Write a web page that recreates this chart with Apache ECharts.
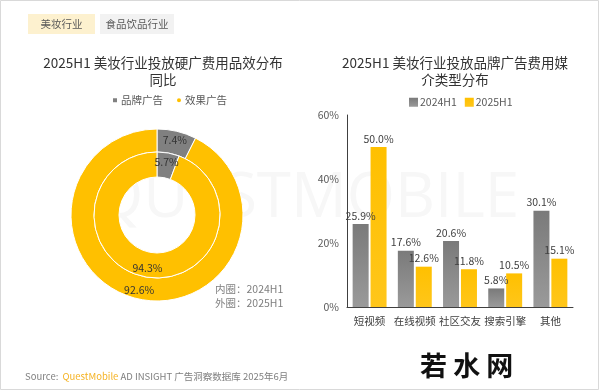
<!DOCTYPE html>
<html><head><meta charset="utf-8">
<script src="https://cdn.jsdelivr.net/npm/echarts@6/dist/echarts.min.js"></script>
<style>html,body{margin:0;padding:0;background:#fff}#c{width:600px;height:392px}</style>
</head><body><div id="c"></div>
<script>
const donutNames = ['品牌广告', '效果广告'];
const inner2024 = [5.7, 94.3];
const outer2025 = [7.4, 92.6];
const categories = ['短视频', '在线视频', '社区交友', '搜索引擎', '其他'];
const s2024 = [25.9, 17.6, 20.6, 5.8, 30.1];
const s2025 = [50.0, 12.6, 11.8, 10.5, 15.1];
const yTicks = [0, 20, 40, 60];

const GRAY = '#808080', YEL = '#FFC000';
const FONT = '"Noto Sans CJK SC", "Noto Sans", sans-serif';
const chart = echarts.init(document.getElementById('c'));
const grad = (a, b) => new echarts.graphic.LinearGradient(0, 0, 0, 1, [{offset: 0, color: a}, {offset: 1, color: b}]);

chart.setOption({
  backgroundColor: '#fff',
  textStyle: {fontFamily: FONT},
  animation: false,
  graphic: [
    {type: 'rect', shape: {x: 0.5, y: 0.5, width: 598, height: 389}, style: {fill: 'none', stroke: '#d9d9d9', lineWidth: 1}, z: -10},
    {type: 'text', left: 95, top: 168, style: {text: 'QUESTMOBILE', font: '62px "Open Sans", sans-serif', fill: '#f7f7f7'}, z: -5},
    {type: 'rect', shape: {x: 28, y: 14, width: 67, height: 20}, style: {fill: '#FDF1CF'}},
    {type: 'text', x: 61.5, y: 24, style: {text: '美妆行业', font: '10.5px ' + FONT, fill: '#595959', align: 'center', verticalAlign: 'middle'}},
    {type: 'rect', shape: {x: 100, y: 14, width: 74, height: 20}, style: {fill: '#F2F2F2'}},
    {type: 'text', x: 137, y: 24, style: {text: '食品饮品行业', font: '10.5px ' + FONT, fill: '#595959', align: 'center', verticalAlign: 'middle'}},
    {type: 'text', x: 215, y: 284, style: {text: '内圈：2024H1', font: '10.5px ' + FONT, fill: '#7f7f7f'}},
    {type: 'text', x: 215, y: 298, style: {text: '外圈：2025H1', font: '10.5px ' + FONT, fill: '#7f7f7f'}},
    {type: 'text', x: 25, y: 372, style: {rich: {a: {fontSize: 9.5, fill: '#7f7f7f', fontFamily: FONT}, b: {fontSize: 9.5, fill: '#F5B324', fontFamily: FONT}}, text: '{a|Source:  }{b|QuestMobile}{a| AD INSIGHT 广告洞察数据库 2025年6月}'}},
    {type: 'text', x: 420, y: 352, style: {text: '若 水 网', font: 'bold 27px "Noto Sans CJK SC"', fill: '#111'}}
  ],
  title: [
    {text: '2025H1 美妆行业投放硬广费用品效分布\n同比', left: 158, top: 49, textAlign: 'center',
     textStyle: {fontSize: 13.5, fontWeight: 'normal', color: '#333', lineHeight: 17, fontFamily: FONT}},
    {text: '2025H1 美妆行业投放品牌广告费用媒\n介类型分布', left: 450, top: 49, textAlign: 'center',
     textStyle: {fontSize: 13.5, fontWeight: 'normal', color: '#333', lineHeight: 17, fontFamily: FONT}}
  ],
  legend: [
    {data: [{name: '品牌广告', icon: 'rect'}, {name: '效果广告', icon: 'circle'}], left: 106, top: 90, itemWidth: 6, itemHeight: 6, itemGap: 12,
     textStyle: {fontSize: 10.5, color: '#595959', padding: [0, 0, 0, -2]}},
    {data: ['2024H1', '2025H1'], left: 404, top: 92, icon: 'rect', itemWidth: 9, itemHeight: 9, itemGap: 8,
     textStyle: {fontSize: 10.5, color: '#595959', padding: [0, 0, 0, -3]}}
  ],
  color: [GRAY, YEL],
  grid: {left: 347, right: 27, top: 115, bottom: 85},
  xAxis: {type: 'category', data: categories,
    axisLine: {lineStyle: {color: '#404040', width: 1}}, axisTick: {show: false},
    axisLabel: {fontSize: 10.5, color: '#404040', margin: 9, interval: 0}},
  yAxis: {type: 'value', min: yTicks[0], max: yTicks[yTicks.length - 1], interval: 20,
    axisLine: {show: true, lineStyle: {color: '#404040'}}, axisTick: {show: false}, splitLine: {show: false},
    axisLabel: {fontSize: 10.5, color: '#595959', formatter: '{value}%'}},
  series: [
    {type: 'pie', name: '2025H1外圈', center: [157, 215], radius: [63, 86], startAngle: 90, clockwise: true,
     data: donutNames.map((n, i) => ({name: n, value: outer2025[i]})),
     itemStyle: {borderColor: '#fff', borderWidth: 1},
     label: {show: true, position: 'inside', formatter: p => p.value.toFixed(1) + '%', fontSize: 10.5, color: '#333'},
     labelLine: {show: false}, emphasis: {disabled: true}},
    {type: 'pie', name: '2024H1内圈', center: [157, 215], radius: [38, 63], startAngle: 90, clockwise: true,
     data: donutNames.map((n, i) => ({name: n, value: inner2024[i]})),
     itemStyle: {borderColor: '#fff', borderWidth: 1},
     label: {show: true, position: 'inside', formatter: p => p.value.toFixed(1) + '%', fontSize: 10.5, color: '#333'},
     labelLine: {show: false}, emphasis: {disabled: true}},
    {type: 'bar', name: '2024H1', data: s2024, barWidth: 16, barGap: '12%',
     itemStyle: {color: grad('#7a7a7a', '#9a9a9a')},
     label: {show: true, position: 'top', formatter: p => p.value.toFixed(1) + '%', fontSize: 10.5, color: '#404040', distance: 3}},
    {type: 'bar', name: '2025H1', data: s2025, barWidth: 16,
     itemStyle: {color: grad('#FFC000', '#FFC61A')},
     label: {show: true, position: 'top', formatter: p => p.value.toFixed(1) + '%', fontSize: 10.5, color: '#404040', distance: 3}}
  ]
});
</script></body></html>
